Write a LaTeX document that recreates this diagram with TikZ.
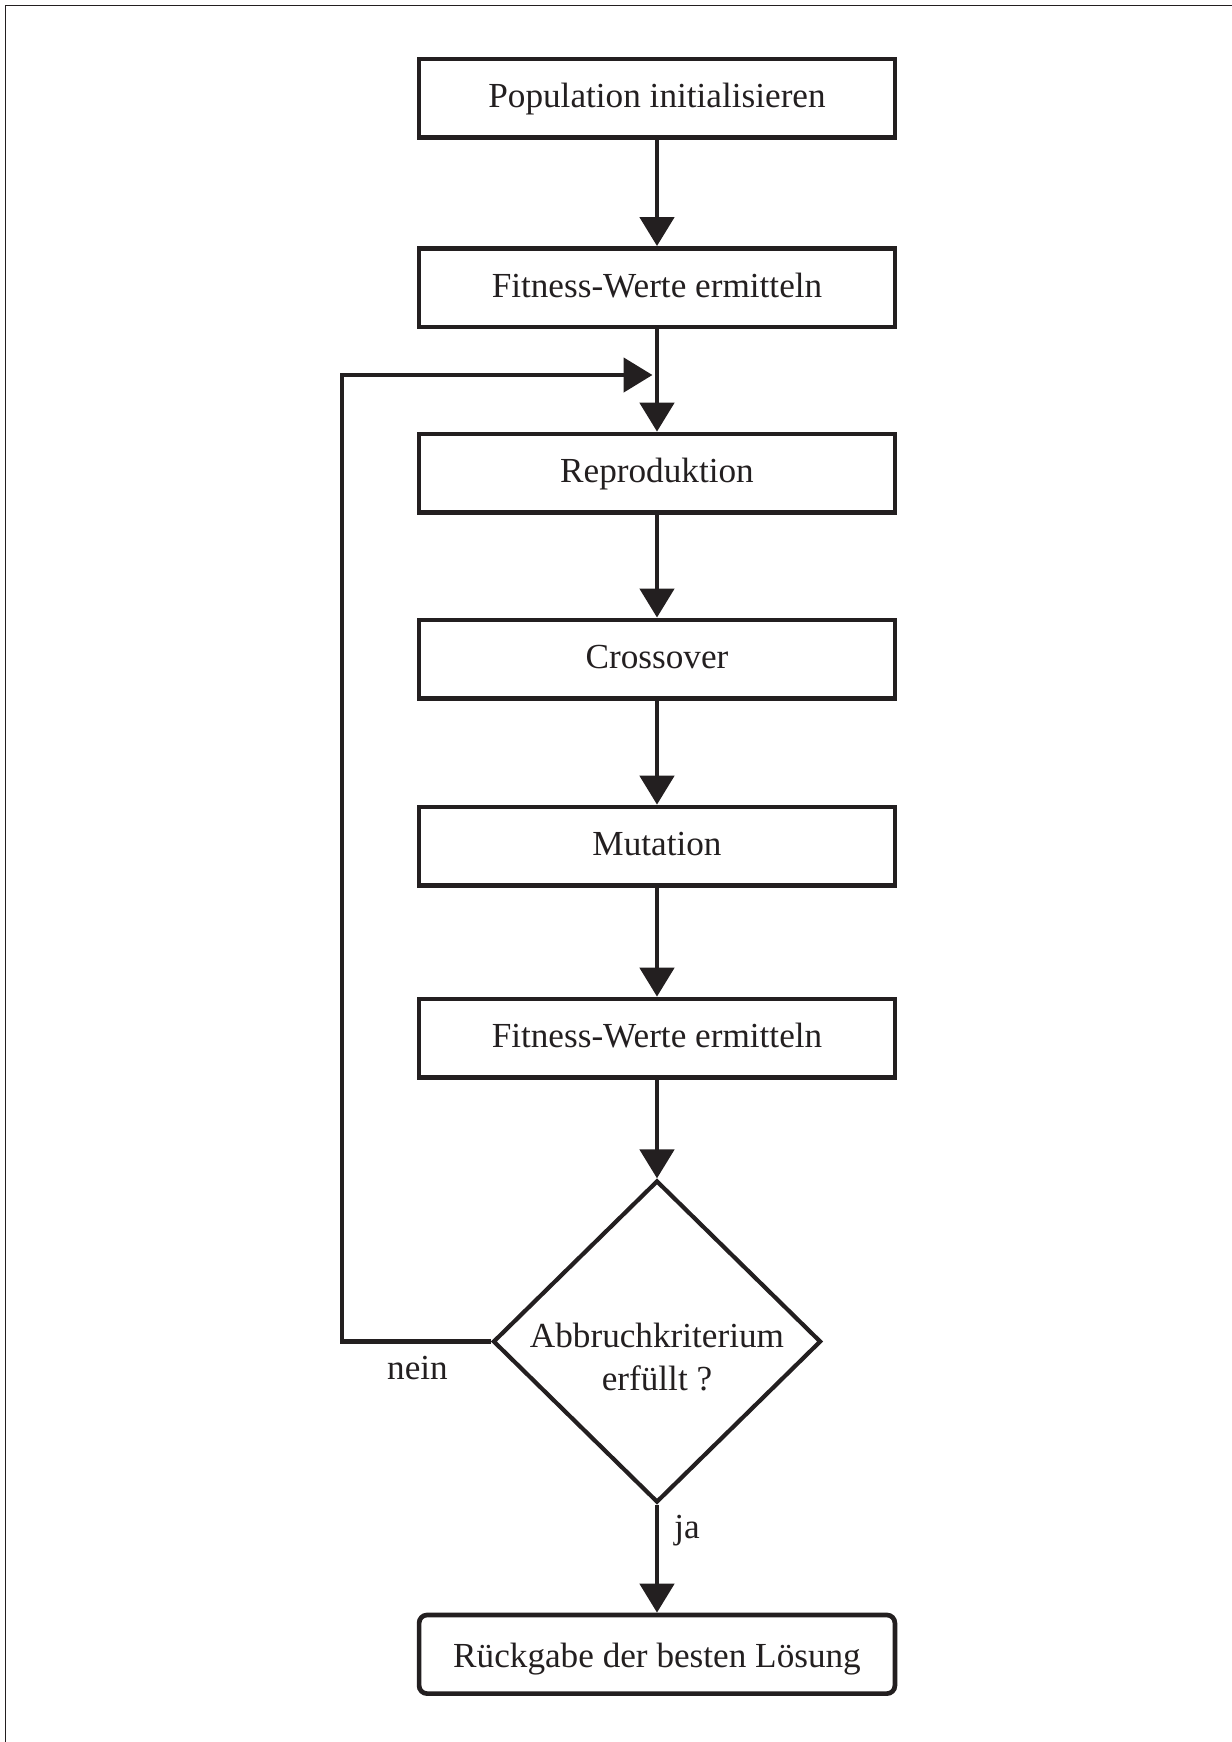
\documentclass[tikz,border=0pt]{standalone}
\usepackage{fontspec}
\setmainfont{Liberation Serif}
\usetikzlibrary{arrows.meta,shapes.geometric}
\definecolor{ink}{HTML}{231F20}
\begin{document}
\begin{tikzpicture}[x=0.5pt,y=-0.5pt,
  every node/.style={font=\fontsize{17.6}{21.5}\selectfont, text=ink},
  procbox/.style={draw=ink, line width=2.35pt, minimum width=237.9pt, minimum height=39.3pt,
    inner sep=0pt, text height=1.15em, text depth=0.2em},
  decbox/.style={draw=ink, diamond, line width=2.1pt, minimum width=164pt, minimum height=161pt, inner sep=0pt},
  conn/.style={draw=ink, line width=2.4pt, -{Triangle[width=17pt,length=14.5pt]}},
  frameline/.style={draw=ink, line width=0.65pt}]
\useasboundingbox (0,0) rectangle (1232,1742);
\draw[frameline] (5.5,1742) -- (5.5,5.3) -- (1232,5.3);

\node[procbox] (b1) at (657,98.3) {Population initialisieren};
\node[procbox] (b2) at (657,287.7) {Fitness-Werte ermitteln};
\node[procbox] (b3) at (657,473.3) {Reproduktion};
\node[procbox] (b4) at (657,659.2) {Crossover};
\node[procbox] (b5) at (657,846.3) {Mutation};
\node[procbox] (b6) at (657,1038.3) {Fitness-Werte ermitteln};
\node[decbox] (dec) at (657,1341.5) {};
\node[align=center, inner sep=0pt] (dectext) at (657,1357) {Abbruchkriterium\\erfüllt ?};
\node[procbox, rounded corners=4pt, text height=1.55em] (b7) at (657,1654.3) {Rückgabe der besten Lösung};
\node[anchor=base, inner sep=0pt] (nein) at (417.5,1379) {nein};
\node[anchor=base, inner sep=0pt] (ja) at (687,1538) {ja};

\coordinate (fbx) at (342,0);
\coordinate (join) at (652.5,375);

\draw[conn] (b1) -- (b2);
\draw[conn] (b2) -- (b3);
\draw[conn] (b3) -- (b4);
\draw[conn] (b4) -- (b5);
\draw[conn] (b5) -- (b6);
\draw[conn] (b6) -- (dec);
\draw[conn] (dec) -- (b7);
\draw[conn] (dec.west) -- (fbx |- dec.west) -- (fbx |- join) -- (join);
\end{tikzpicture}
\end{document}
